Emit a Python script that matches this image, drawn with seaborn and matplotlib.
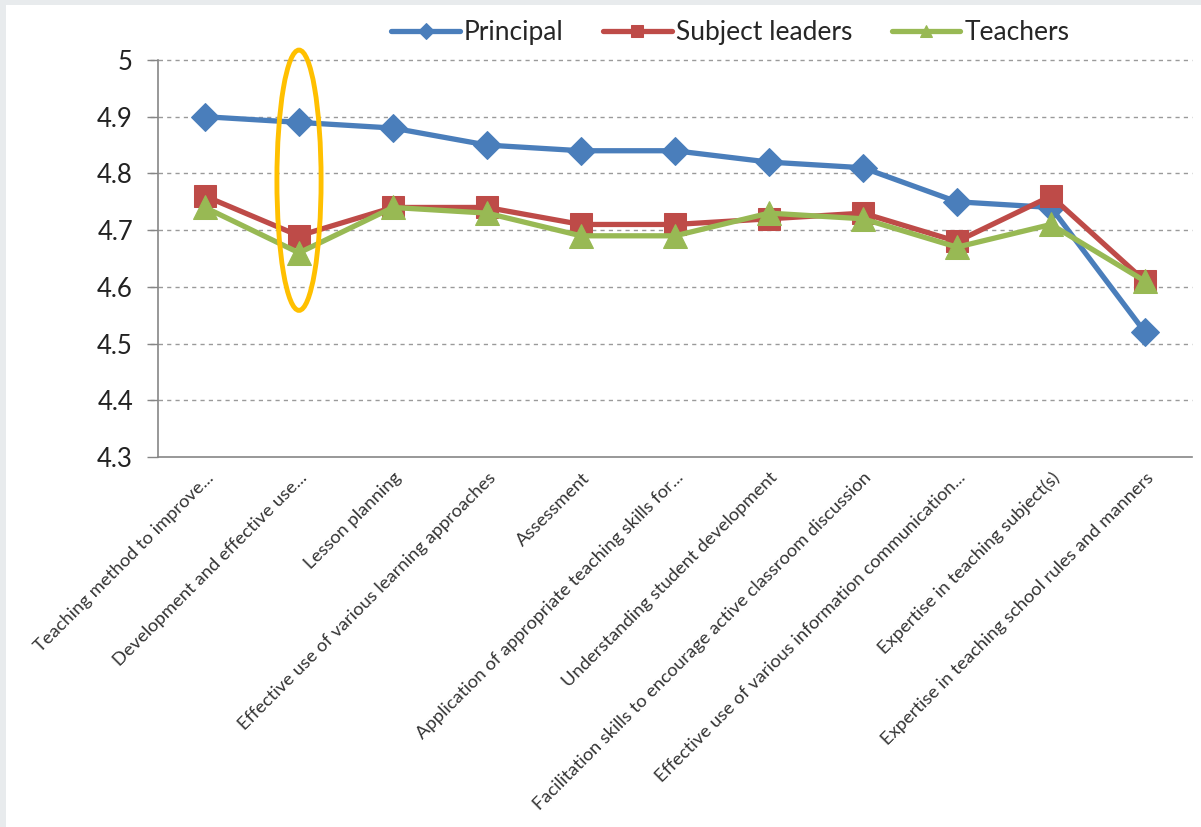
import matplotlib
matplotlib.use("Agg")
import matplotlib.pyplot as plt
from matplotlib.patches import Ellipse, Rectangle
from matplotlib.transforms import ScaledTranslation
import seaborn as sns
import numpy as np
import pandas as pd

categories = [
    "Teaching method to improve...",
    "Development and effective use...",
    "Lesson planning",
    "Effective use of various learning approaches",
    "Assessment",
    "Application of appropriate teaching skills for...",
    "Understanding student development",
    "Facilitation skills to encourage active classroom discussion",
    "Effective use of various information communication...",
    "Expertise in teaching subject(s)",
    "Expertise in teaching school rules and manners",
]
principal = [4.90, 4.89, 4.88, 4.85, 4.84, 4.84, 4.82, 4.81, 4.75, 4.74, 4.52]
subject_leaders = [4.76, 4.69, 4.74, 4.74, 4.71, 4.71, 4.72, 4.73, 4.68, 4.76, 4.61]
teachers = [4.74, 4.66, 4.74, 4.73, 4.69, 4.69, 4.73, 4.72, 4.67, 4.71, 4.61]
series_names = ["Principal", "Subject leaders", "Teachers"]
y_ticks = [4.3, 4.4, 4.5, 4.6, 4.7, 4.8, 4.9, 5.0]
y_tick_labels = ["4.3", "4.4", "4.5", "4.6", "4.7", "4.8", "4.9", "5"]

sns.set_theme(style="white")
plt.rcParams["font.family"] = ["Lato", "DejaVu Sans"]

fig = plt.figure(figsize=(12.01, 8.27), dpi=100, facecolor="#e8ebed")
fig.patches.append(Rectangle((6 / 1201, 0), 1, 1 - 5 / 827, transform=fig.transFigure,
                             facecolor="white", edgecolor="none", zorder=-10))
ax = fig.add_axes([158 / 1201, 1 - 457 / 827, (1192 - 158) / 1201, (457 - 60) / 827])
ax.set_facecolor("none")

x = np.arange(len(categories))
df = pd.DataFrame({"x": x, "Principal": principal, "Subject leaders": subject_leaders,
                   "Teachers": teachers})

styles = {
    "Principal": dict(color="#4a7ebb", marker="D", markersize=14),
    "Subject leaders": dict(color="#be4b48", marker="s", markersize=15.5),
    "Teachers": dict(color="#98b954", marker="^", markersize=17),
}
for name in series_names:
    st = styles[name]
    sns.lineplot(data=df, x="x", y=name, ax=ax, color=st["color"], marker=st["marker"],
                 markersize=st["markersize"], markeredgecolor=st["color"], linewidth=3.8,
                 label=name)

ax.set_xlim(-0.5, len(categories) - 0.5)
ax.set_ylim(4.3, 5.0)
ax.set_yticks(y_ticks)
ax.set_yticklabels(y_tick_labels, fontsize=18.5, color="#222222")
ax.set_xticks(x)
ax.set_xticks(np.arange(-0.5, len(categories)), minor=True)
ax.tick_params(axis="x", which="major", length=0, pad=8)
ax.tick_params(axis="x", which="minor", length=8, color="#868686", width=1)
ax.tick_params(axis="y", length=8, color="#868686", width=1, pad=10, direction="out", left=True)
ax.set_xticklabels(categories, rotation=45, ha="right", va="center", rotation_mode="anchor",
                   fontsize=13.2, color="#333333")
offset = ScaledTranslation(6 / 100, -7 / 100, fig.dpi_scale_trans)
for lbl in ax.get_xticklabels():
    lbl.set_transform(lbl.get_transform() + offset)
ax.set_xlabel("")
ax.set_ylabel("")

for yv in y_ticks[1:]:
    ax.axhline(yv, color="#9a9a9a", linestyle=(0, (3, 3)), linewidth=1, zorder=0, xmin=-0.008,
               clip_on=False)

for s in ["top", "right"]:
    ax.spines[s].set_visible(False)
for s in ["left", "bottom"]:
    ax.spines[s].set_color("#868686")
    ax.spines[s].set_linewidth(1.2)

ell = Ellipse((1, 4.788), width=0.47, height=0.459, fill=False, edgecolor="#FFC000",
              linewidth=3.5, zorder=5, clip_on=False)
ax.add_patch(ell)

ax.legend(loc="center", bbox_to_anchor=(0.608, 0.961), bbox_transform=fig.transFigure,
          ncol=3, frameon=False, fontsize=19, handlelength=2.6, markerscale=0.55,
          columnspacing=1.5, handletextpad=0.15)

fig.savefig("out.png", dpi=100, facecolor=fig.get_facecolor())
